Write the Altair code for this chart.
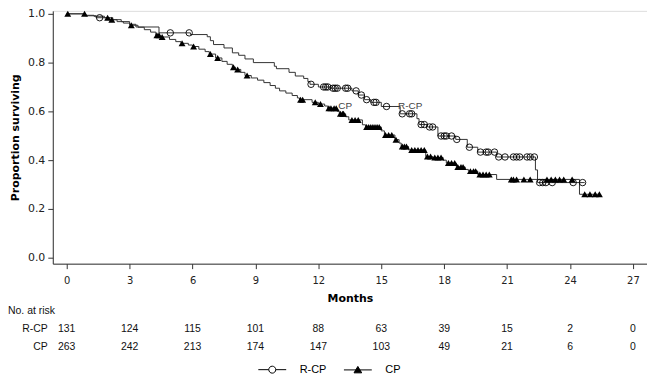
import altair as alt
import pandas as pd

# ---------------- data ----------------
series_names = ["R-CP", "CP"]

# R-CP Kaplan-Meier step function (time in months, survival after the step)
rcp_t = [0, 0.9, 1.4, 2.2, 2.6, 3.0, 3.3, 4.4, 5.9, 6.7, 6.85, 7.0, 7.5, 7.9, 8.2, 8.5, 8.9,
         9.9, 10.0, 10.6, 10.9, 11.3, 11.5, 11.6, 12.0, 12.6, 13.6, 13.9, 14.2, 14.5, 15.0,
         15.9, 16.7, 16.8, 17.2, 17.7, 18.55, 19.1, 19.6, 20.5, 22.35, 22.45, 24.7]
rcp_s = [1.0, 0.992, 0.984, 0.976, 0.968, 0.957, 0.946, 0.922, 0.915, 0.906, 0.89, 0.874, 0.86,
         0.84, 0.83, 0.815, 0.8, 0.785, 0.775, 0.76, 0.745, 0.735, 0.722, 0.711, 0.70, 0.695,
         0.684, 0.667, 0.648, 0.637, 0.62, 0.59, 0.57, 0.546, 0.536, 0.499, 0.485, 0.453,
         0.433, 0.413, 0.36, 0.308, 0.308]
rcp_censor = [1.57, 4.94, 5.84, 11.65, 12.25, 12.35, 12.45, 12.7, 12.8, 12.9, 13.3, 13.4, 13.8,
              14.05, 14.3, 14.65, 14.75, 15.25, 16.0, 16.35, 16.45, 16.9, 17.05, 17.3, 17.45,
              17.85, 18.0, 18.1, 18.35, 18.6, 19.2, 19.73, 20.0, 20.1, 20.4, 20.6, 20.9, 21.3,
              21.45, 21.6, 21.95, 22.1, 22.3, 22.55, 22.7, 22.85, 23.15, 24.15, 24.6]

# CP Kaplan-Meier step function
cp_t = [0, 0.9, 1.3, 1.8, 2.05, 2.4, 2.7, 3.0, 3.4, 3.7, 4.0, 4.25, 4.45, 4.9, 5.2, 5.45, 5.8,
        6.0, 6.3, 6.6, 6.8, 7.1, 7.4, 7.65, 7.9, 8.05, 8.3, 8.5, 8.8, 9.1, 9.4, 9.7, 9.95,
        10.15, 10.45, 10.75, 11.0, 11.1, 11.7, 12.0, 12.3, 12.45, 12.9, 13.0, 13.3, 13.45,
        14.1, 14.25, 15.0, 15.15, 15.65, 15.85, 15.95, 16.3, 17.12, 17.45, 17.95, 18.1,
        18.58, 19.0, 19.15, 19.6, 20.5, 24.45, 25.4]
cp_s = [1.0, 0.994, 0.99, 0.984, 0.976, 0.968, 0.962, 0.953, 0.945, 0.935, 0.925, 0.912, 0.905,
        0.895, 0.886, 0.879, 0.872, 0.866, 0.855, 0.845, 0.835, 0.819, 0.805, 0.793, 0.781,
        0.772, 0.76, 0.747, 0.737, 0.728, 0.718, 0.706, 0.695, 0.684, 0.675, 0.665, 0.655,
        0.648, 0.637, 0.63, 0.622, 0.613, 0.60, 0.59, 0.578, 0.565, 0.545, 0.536, 0.52,
        0.503, 0.484, 0.47, 0.456, 0.442, 0.415, 0.411, 0.40, 0.388, 0.372, 0.362, 0.355,
        0.341, 0.321, 0.26, 0.26]
cp_censor = [0.05, 0.85, 1.95, 2.15, 3.08, 4.3, 4.4, 4.55, 5.5, 6.05, 6.85, 7.2, 7.95, 8.15, 8.6,
             11.15, 11.25, 11.85, 12.1, 12.5, 12.6, 12.75, 12.85, 13.05, 13.15, 13.2, 13.6,
             13.75, 13.9, 14.3, 14.4, 14.5, 14.6, 14.7, 14.8, 14.9, 15.2, 15.35, 15.5, 15.7,
             16.0, 16.1, 16.2, 16.45, 16.6, 16.75, 16.9, 17.05, 17.2, 17.35, 17.55, 17.7, 17.85,
             18.2, 18.35, 18.5, 18.65, 18.8, 18.9, 19.25, 19.4, 19.5, 19.7, 19.85, 20.0, 20.15,
             21.2, 21.3, 21.45, 21.8, 22.1, 22.9, 23.1, 23.3, 23.5, 23.7, 24.1, 24.7, 24.95,
             25.2, 25.4]

# numbers at risk
risk_months = [0, 3, 6, 9, 12, 15, 18, 21, 24, 27]
rcp_risk = [131, 124, 115, 101, 88, 63, 39, 15, 2, 0]
cp_risk = [263, 242, 213, 174, 147, 103, 49, 21, 6, 0]

# in-plot curve labels
curve_labels = ["CP", "R-CP"]
curve_label_month = [12.95, 15.8]
curve_label_surv = [0.62, 0.62]

x_ticks = [0, 3, 6, 9, 12, 15, 18, 21, 24, 27]
y_ticks = [0.0, 0.2, 0.4, 0.6, 0.8, 1.0]


def step_value(ts, ss, t):
    v = ss[0]
    for ti, si in zip(ts, ss):
        if ti <= t:
            v = si
    return v


rcp_df = pd.DataFrame({"month": rcp_t, "surv": rcp_s})
cp_df = pd.DataFrame({"month": cp_t, "surv": cp_s})
rcp_c_df = pd.DataFrame({"month": rcp_censor,
                         "surv": [step_value(rcp_t, rcp_s, t) for t in rcp_censor]})
cp_c_df = pd.DataFrame({"month": cp_censor,
                        "surv": [step_value(cp_t, cp_s, t) for t in cp_censor]})
lab_df = pd.DataFrame({"label": curve_labels, "month": curve_label_month, "surv": curve_label_surv})

risk_df = pd.DataFrame({
    "month": risk_months * 2,
    "row": ["R-CP"] * len(risk_months) + ["CP"] * len(risk_months),
    "n": rcp_risk + cp_risk,
})
rowlab_df = pd.DataFrame({"row": ["No. at risk", "R-CP", "CP"],
                          "text": ["No. at risk", "R-CP", "CP"],
                          "kind": ["header", "series", "series"]})
legend_df = pd.DataFrame({"series": series_names, "month": [-5, -5], "surv": [0.5, 0.5]})

# ---------------- chart ----------------
AX_FONT = "DejaVu Sans"
TABLE_FONT = "Liberation Sans Narrow, Arial Narrow, Liberation Sans, sans-serif"

xscale = alt.Scale(domain=[-0.664, 27.67], nice=False, zero=False)
yscale = alt.Scale(domain=[-0.0245, 1.0122], nice=False, zero=False)

xenc = alt.X("month:Q", scale=xscale,
             axis=alt.Axis(values=x_ticks, title="Months", grid=False, tickSize=5,
                           labelFont=AX_FONT, labelFontSize=10, labelColor="#222",
                           titleFont=AX_FONT, titleFontSize=11, titleFontWeight="bold",
                           titleColor="#000", titlePadding=7, domainColor="#333",
                           tickColor="#333", labelPadding=7))
yenc = alt.Y("surv:Q", scale=yscale,
             axis=alt.Axis(values=y_ticks, format=".1f", title="Proportion surviving",
                           grid=False, tickSize=5, labelFont=AX_FONT, labelFontSize=11,
                           labelColor="#222", titleFont=AX_FONT, titleFontSize=11,
                           titleFontWeight="bold", titleColor="#000", titlePadding=7,
                           domainColor="#333", tickColor="#333", labelPadding=3))

rcp_line = alt.Chart(rcp_df).mark_line(interpolate="step-after", color="#333",
                                       strokeWidth=1).encode(x=xenc, y=yenc)
cp_line = alt.Chart(cp_df).mark_line(interpolate="step-after", color="#333",
                                     strokeWidth=1).encode(x="month:Q", y="surv:Q")
rcp_pts = alt.Chart(rcp_c_df).mark_point(shape="circle", filled=False, size=42, color="#000",
                                         strokeWidth=0.9, opacity=1).encode(x="month:Q", y="surv:Q")
cp_pts = alt.Chart(cp_c_df).mark_point(shape="triangle-up", filled=True, size=48, color="#000",
                                       opacity=1).encode(x="month:Q", y="surv:Q")
curve_txt = alt.Chart(lab_df).mark_text(align="left", baseline="middle", fontSize=10,
                                        font="Liberation Sans", color="#444").encode(
    x="month:Q", y="surv:Q", text="label:N")

path_circle = "M-2,0L-0.5,0M0.5,0L2,0M-0.5,0A0.5,0.5,0,1,1,0.5,0A0.5,0.5,0,1,1,-0.5,0Z"
path_tri = "M-2,0L2,0M-0.55,0.42L0,-0.5L0.55,0.42Z"

legend_src = alt.Chart(legend_df).mark_point(clip=True, strokeWidth=1, opacity=1).encode(
    x="month:Q", y="surv:Q",
    shape=alt.Shape("series:N", scale=alt.Scale(domain=series_names, range=[path_circle, path_tri]),
                    legend=alt.Legend(orient="none", direction="horizontal", legendX=213,
                                      legendY=353, title=None, symbolSize=196,
                                      labelOffset=20, columnPadding=15,
                                      labelFont="Liberation Sans", labelFontSize=11,
                                      labelColor="#000", symbolStrokeWidth=1)),
    fill=alt.Fill("series:N", scale=alt.Scale(domain=series_names, range=["transparent", "#000"])),
    stroke=alt.Stroke("series:N", scale=alt.Scale(domain=series_names, range=["#000", "#000"])),
)

main = alt.layer(rcp_line, cp_line, rcp_pts, cp_pts, curve_txt, legend_src)

row_scale = alt.Scale(type="point", domain=["No. at risk", "R-CP", "CP"],
                      range=[302, 338], padding=0)
risk_nums = alt.Chart(risk_df).mark_text(align="center", baseline="middle", fontSize=10.5,
                                         font=TABLE_FONT, color="#111").encode(
    x=alt.X("month:Q", scale=xscale),
    y=alt.Y("row:N", scale=row_scale, axis=None),
    text="n:Q")
row_labels = alt.Chart(rowlab_df).transform_filter("datum.kind == 'series'").mark_text(
    align="right", baseline="middle", fontSize=10.5, font=TABLE_FONT, color="#111").encode(
    x=alt.value(-5), y=alt.Y("row:N", scale=row_scale, axis=None), text="text:N")
header = alt.Chart(rowlab_df).transform_filter("datum.kind == 'header'").mark_text(
    align="left", baseline="middle", fontSize=10.5, font=TABLE_FONT, color="#111").encode(
    x=alt.value(-45), y=alt.Y("row:N", scale=row_scale, axis=None), text="text:N")

table = alt.layer(risk_nums, row_labels, header)

chart = alt.layer(main, table).resolve_scale(y="independent").properties(
    width=597, height=254,
    autosize=alt.AutoSizeParams(type="none"),
    padding={"left": 45, "top": 2, "right": 0, "bottom": 112},
).configure_view(stroke=None).configure(background="white")

chart.save("out.html", embed_options={"renderer": "svg", "actions": False})
